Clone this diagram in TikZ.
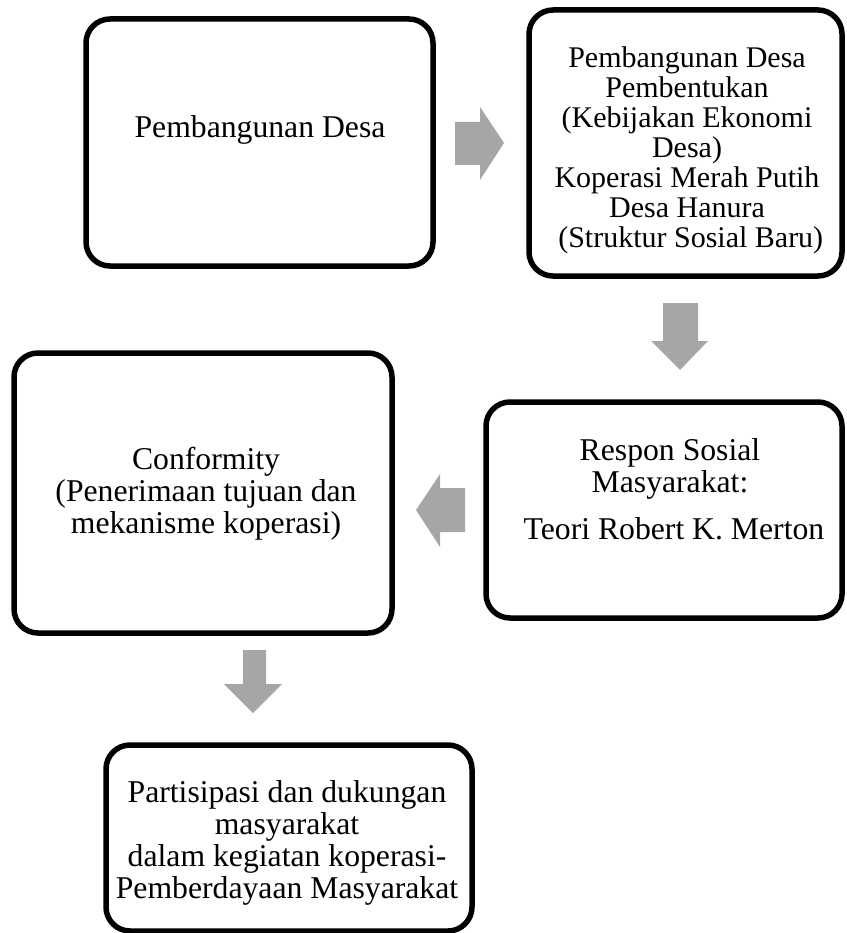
\documentclass[tikz,border=0pt]{standalone}
\usepackage{fontspec}
\setmainfont{Liberation Serif}
\definecolor{arrowgray}{RGB}{166,166,166}
\begin{document}
\begin{tikzpicture}[x=1pt,y=-1pt,
  box/.style={draw=black, line width=5.5pt, rounded corners=24pt, fill=white, inner sep=0pt},
  txt/.style={align=center, font=\fontsize{31.7}{32}\selectfont, inner sep=0pt},
  txtsmall/.style={align=center, font=\fontsize{30}{30}\selectfont, inner sep=0pt},
  blockarrow/.style={fill=arrowgray, draw=none}]
\useasboundingbox (0,0) rectangle (846,933);
% boxes
\node[box, minimum width=347pt, minimum height=247pt] (b1) at (259.5,142.5) {};
\node[box, minimum width=313pt, minimum height=266pt] (b2) at (685.5,143) {};
\node[box, minimum width=378pt, minimum height=280pt] (b3) at (203,493) {};
\node[box, minimum width=356pt, minimum height=216pt] (b4) at (664,510) {};
\node[box, minimum width=366pt, minimum height=186pt] (b5) at (289,838) {};
% texts
\node[txt] (t1) at (260,130) {Pembangunan Desa};
\node[txtsmall] (t2) at (687,150) {Pembangunan Desa\\Pembentukan\\(Kebijakan Ekonomi\\Desa)\\Koperasi Merah Putih\\Desa Hanura\\\ (Struktur Sosial Baru)};
\node[txt] (t3) at (206,494) {Conformity\\(Penerimaan tujuan dan\\mekanisme koperasi)};
\node[txt] (t4) at (670,489) {Respon Sosial\\Masyarakat:\\[15pt]\ Teori Robert K. Merton};
\node[txt] (t5) at (287,843) {Partisipasi dan dukungan\\masyarakat\\dalam kegiatan koperasi-\\Pemberdayaan Masyarakat};
% block arrows
\path[blockarrow] (455,122) -- (480,122) -- (480,107) -- (504,143) -- (480,180) -- (480,165) -- (455,165) -- cycle;
\path[blockarrow] (663,303) -- (698,303) -- (698,341) -- (708,341) -- (680,370) -- (651,341) -- (663,341) -- cycle;
\path[blockarrow] (465,488) -- (440,488) -- (440,474) -- (416,510) -- (440,547) -- (440,532) -- (465,532) -- cycle;
\path[blockarrow] (243,650) -- (266,650) -- (266,684) -- (282,684) -- (253,713) -- (224,684) -- (243,684) -- cycle;
\end{tikzpicture}
\end{document}
